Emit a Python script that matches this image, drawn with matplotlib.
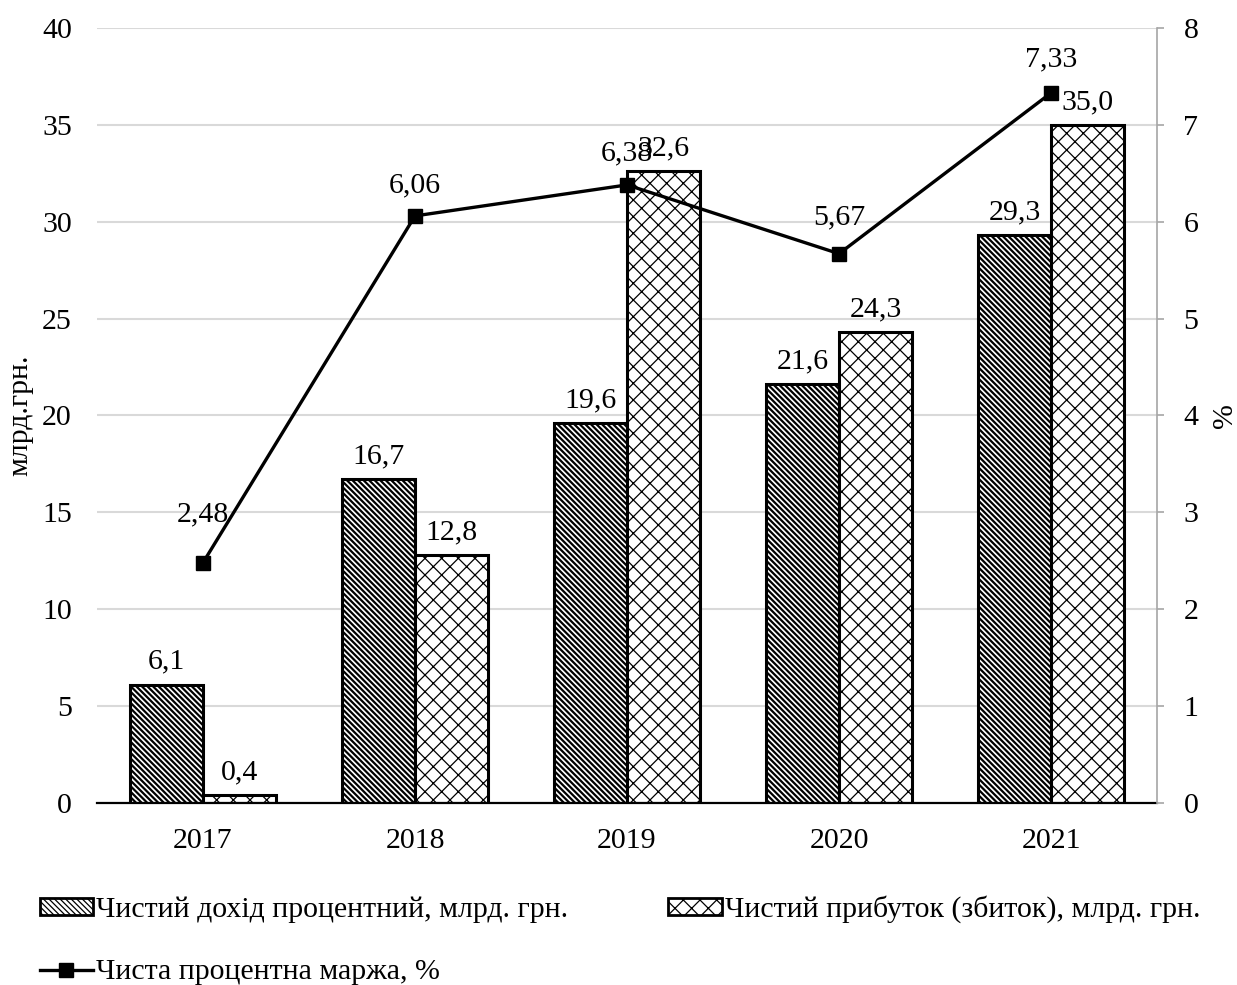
import matplotlib
matplotlib.use("Agg")
import matplotlib.pyplot as plt
import numpy as np
from matplotlib.lines import Line2D
from matplotlib.patches import Patch

plt.rcParams['font.family'] = ['Liberation Serif', 'DejaVu Serif']

years = ["2017", "2018", "2019", "2020", "2021"]
net_interest_income = [6.1, 16.7, 19.6, 21.6, 29.3]
net_profit = [0.4, 12.8, 32.6, 24.3, 35.0]
net_interest_margin = [2.48, 6.06, 6.38, 5.67, 7.33]

label_income = "Чистий дохід процентний, млрд. грн."
label_profit = "Чистий прибуток (збиток), млрд. грн."
label_margin = "Чиста процентна маржа, %"

fs = 21.5
hatch_income = "\\" * 6
hatch_profit = "xx"
hlw_income = 1.6
hlw_profit = 0.9
# vertical offsets (points) of the margin labels above their markers
margin_label_offsets = [30, 17, 18, 21, 19]


def set_hlw(artist, lw):
    if hasattr(artist, "set_hatch_linewidth"):
        artist.set_hatch_linewidth(lw)


fig = plt.figure(figsize=(12.37, 9.85), dpi=100)
ax = fig.add_axes([0.0784, 0.1848, 0.857, 0.7868])

x = np.arange(len(years))
w = 0.343

plt.rcParams['hatch.linewidth'] = hlw_income
b1 = ax.bar(x - w / 2, net_interest_income, w, facecolor="white", edgecolor="black",
            hatch=hatch_income, linewidth=2.2, zorder=3)
for bar in b1:
    set_hlw(bar, hlw_income)
plt.rcParams['hatch.linewidth'] = hlw_profit
b2 = ax.bar(x + w / 2, net_profit, w, facecolor="white", edgecolor="black",
            hatch=hatch_profit, linewidth=2.2, zorder=3)
for bar in b2:
    set_hlw(bar, hlw_profit)

for xi, v in zip(x - w / 2, net_interest_income):
    ax.annotate(f"{v:.1f}".replace(".", ","), (xi, v), xytext=(0, 11.5),
                textcoords="offset points", ha="center", va="baseline", fontsize=fs, zorder=5)
for xi, v in zip(x + w / 2, net_profit):
    ax.annotate(f"{v:.1f}".replace(".", ","), (xi, v), xytext=(0, 11.5),
                textcoords="offset points", ha="center", va="baseline", fontsize=fs, zorder=5)

ax.set_xlim(-0.5, len(years) - 0.5)
ax.set_ylim(0, 40)
ax.set_yticks(np.arange(0, 41, 5))
ax.set_xticks(x)
ax.set_xticklabels(years, fontsize=fs)
ax.tick_params(axis="y", length=0, labelsize=fs, pad=18)
ax.tick_params(axis="x", length=0, pad=18)
ax.grid(axis="y", color="#d9d9d9", linewidth=1.5, zorder=0)
ax.set_axisbelow(True)
for s in ("top", "left", "right"):
    ax.spines[s].set_visible(False)
ax.spines["bottom"].set_color("black")
ax.spines["bottom"].set_linewidth(1.6)
ax.spines["bottom"].set_zorder(4)
ax.set_ylabel("млрд.грн.", fontsize=fs, labelpad=6)

ax2 = ax.twinx()
ax2.plot(x, net_interest_margin, color="black", linewidth=2.4, marker="s",
         markersize=10, zorder=6)
for xi, v, off in zip(x, net_interest_margin, margin_label_offsets):
    ax2.annotate(f"{v:.2f}".replace(".", ","), (xi, v), xytext=(0, off),
                 textcoords="offset points", ha="center", va="baseline", fontsize=fs, zorder=7)
ax2.set_ylim(0, 8)
ax2.set_yticks(np.arange(0, 9, 1))
ax2.tick_params(axis="y", length=5, width=1.2, color="#a6a6a6", labelsize=fs, pad=14)
for s in ("top", "left", "bottom"):
    ax2.spines[s].set_visible(False)
ax2.spines["right"].set_color("#a6a6a6")
ax2.spines["right"].set_linewidth(1.2)
ax2.set_ylabel("%", fontsize=fs, labelpad=10)

plt.rcParams['hatch.linewidth'] = hlw_income
h1 = Patch(facecolor="white", edgecolor="black", hatch=hatch_income, linewidth=2, label=label_income)
set_hlw(h1, hlw_income)
plt.rcParams['hatch.linewidth'] = hlw_profit
h3 = Patch(facecolor="white", edgecolor="black", hatch=hatch_profit, linewidth=2, label=label_profit)
set_hlw(h3, hlw_profit)
h2 = Line2D([0], [0], color="black", linewidth=2.4, marker="s", markersize=10, label=label_margin)

fig.legend(handles=[h1, h2, h3], loc="upper left", bbox_to_anchor=(0.032, 0.091), ncol=2,
           frameon=False, fontsize=fs, handlelength=1.8, handleheight=0.5,
           handletextpad=0.1, labelspacing=1.22, columnspacing=3.33,
           borderpad=0, borderaxespad=0)

fig.savefig("out.png", dpi=100)
